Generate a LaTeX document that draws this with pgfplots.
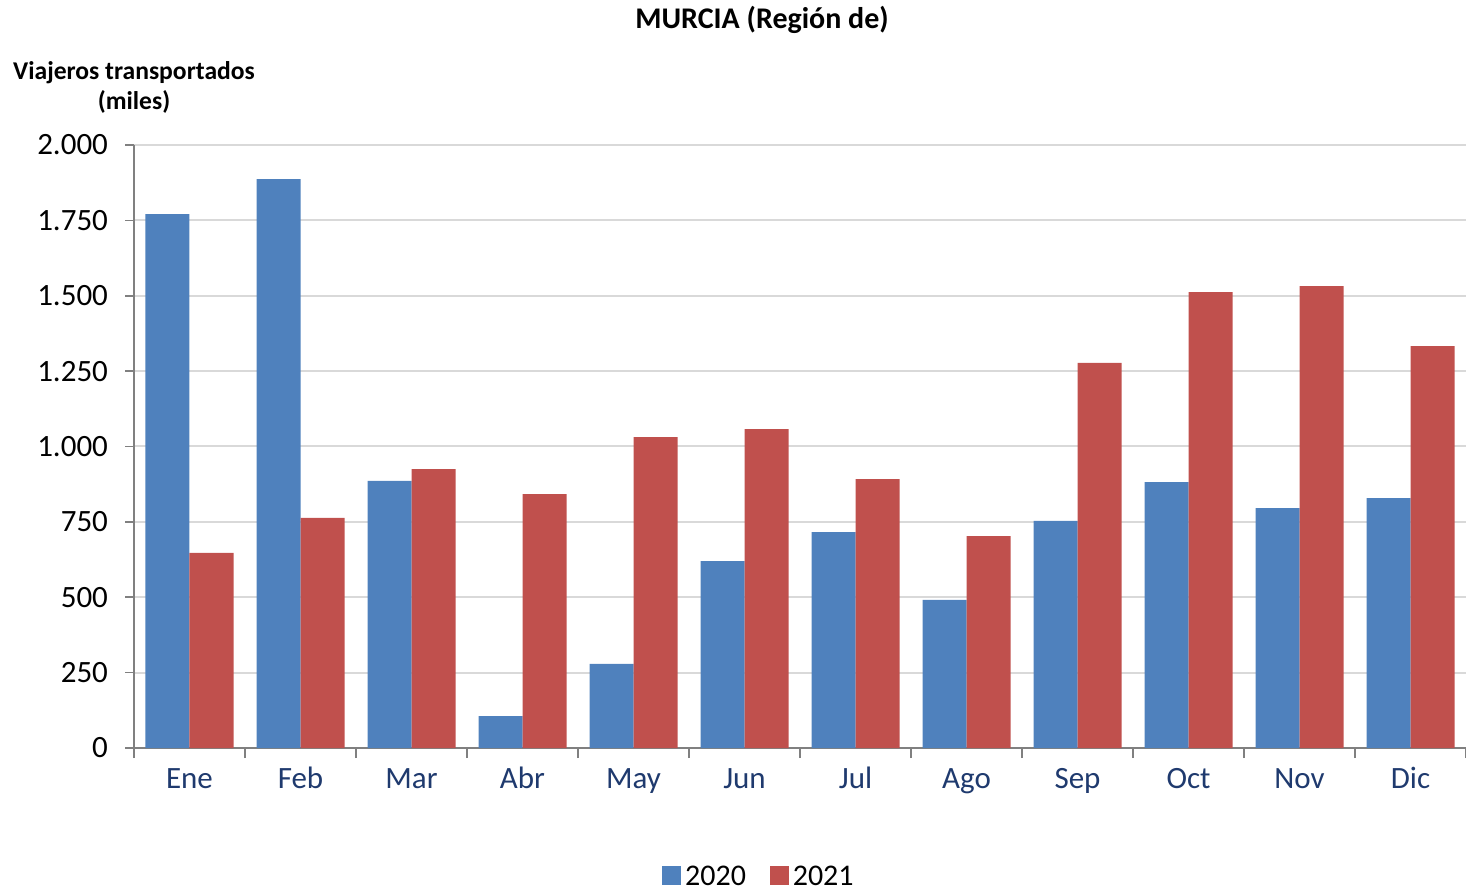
\documentclass[border=0pt]{standalone}
\usepackage{pgfplots}
\pgfplotsset{compat=1.18}
\usepackage{fontspec}
\setmainfont{Carlito}
\definecolor{cblue}{HTML}{4F81BD}
\definecolor{cred}{HTML}{C0504D}
\definecolor{navy}{HTML}{1F3A6E}
\definecolor{gridc}{HTML}{D9D9D9}
\begin{document}
\begin{tikzpicture}
\begin{axis}[
  scale only axis,
  width=666pt, height=301.5pt,
  clip=false,
  ybar=0pt, bar width=22pt,
  xmin=-0.5, xmax=11.5,
  ymin=0, ymax=2000,
  ytick={0,250,...,2000},
  xtick={0,...,11},
  xticklabels={Ene,Feb,Mar,Abr,May,Jun,Jul,Ago,Sep,Oct,Nov,Dic},
  minor xtick={-0.5,0.5,...,11.5},
  major x tick style={draw=none},
  minor x tick style={draw=gray, line width=0.8pt},
  minor tick length=5pt,
  y tick style={draw=gray, line width=0.8pt},
  major tick length=4.5pt,
  tick align=outside,
  axis x line*=bottom, axis y line*=left,
  axis line style={draw=gray, line width=1pt, -},
  ymajorgrids, grid style={gridc, line width=1pt},
  /pgf/number format/assume math mode=true,
  /pgf/number format/.cd, 1000 sep={.},
  /pgfplots/.cd,
  yticklabel style={font=\fontsize{15.5}{17}\selectfont, xshift=-5pt},
  xticklabel style={font=\fontsize{15.5}{17}\selectfont, text=navy, yshift=-4.5pt, text height=1.6ex, text depth=0.45ex},
  legend style={at={(0.47,-0.215)}, anchor=center, draw=none, legend columns=2,
    font=\fontsize{15}{17}\selectfont,
    /tikz/every even column/.append style={column sep=10pt}},
  legend image code/.code={\draw[#1, draw=none] (0cm,-0.13cm) rectangle (0.33cm,0.2cm);},
]
\addplot[fill=cblue, draw=none] coordinates {(0,1771) (1,1887) (2,886) (3,106) (4,279) (5,620) (6,716) (7,491) (8,753) (9,882) (10,796) (11,829)};
\addplot[fill=cred, draw=none] coordinates {(0,647) (1,763) (2,925) (3,842) (4,1031) (5,1058) (6,892) (7,703) (8,1277) (9,1512) (10,1532) (11,1333)};
\legend{2020,2021}
\coordinate (bl) at (rel axis cs:0,0);
\coordinate (tr) at (rel axis cs:1,1);
\node[font=\bfseries\fontsize{15}{17}\selectfont, anchor=center] at ([yshift=62.5pt]rel axis cs:0.4715,1) {MURCIA (Región de)};
\node[font=\bfseries\fontsize{12.8}{15}\selectfont, align=center, anchor=center] at ([yshift=29pt]rel axis cs:0,1) {Viajeros transportados\\(miles)};
\end{axis}
\pgfresetboundingbox
\path[use as bounding box] ([shift={(-67pt,-72.5pt)}]bl) rectangle ([shift={(0pt,72.5pt)}]tr);
\end{tikzpicture}
\end{document}
